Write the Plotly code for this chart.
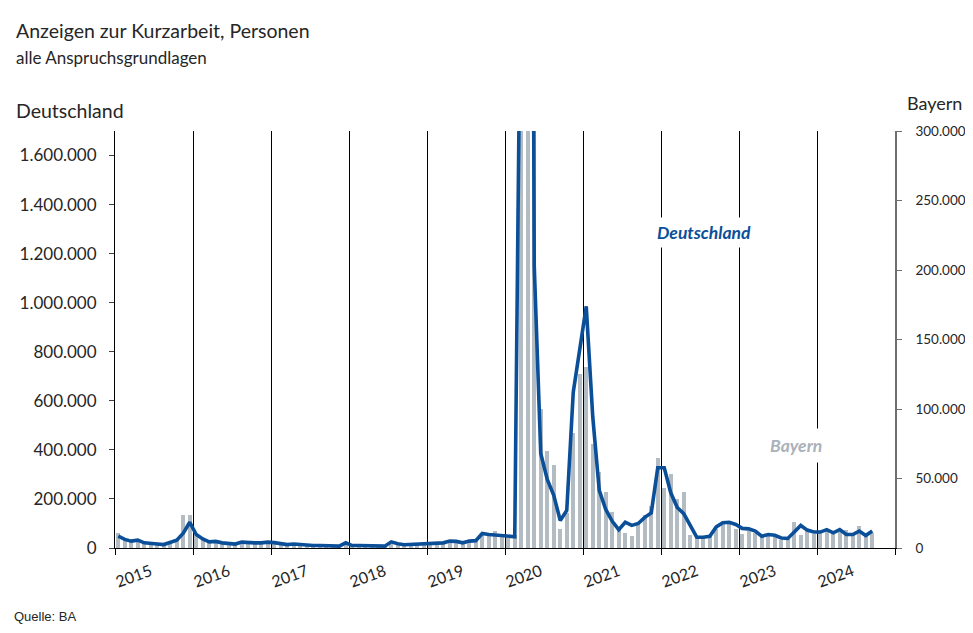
import plotly.graph_objects as go

# ---------------- data (values in thousands of persons) ----------------
years = [2015, 2016, 2017, 2018, 2019, 2020, 2021, 2022, 2023, 2024]

# Deutschland (left axis), monthly Jan 2015 .. Sep 2024
de_2015 = [48, 35, 28, 32, 21, 17, 16, 14, 24, 32, 60, 105]
de_2016 = [55, 37, 25, 27, 21, 17, 16, 24, 21, 21, 21, 24]
de_2017 = [22, 17, 14, 16, 13, 10, 10, 10, 9, 7.5, 7.5, 21]
de_2018 = [10, 10, 10, 9, 7.5, 7.5, 25, 17, 13, 14, 14, 16]
de_2019 = [17, 17, 21, 28, 27, 21, 28, 30, 59, 55, 52, 50]
de_2020 = [47, 46, 2650, 8000, 1150, 385, 280, 215, 112, 153, 635, 800]
de_2021 = [985, 535, 235, 157, 109, 75, 105, 92, 100, 125, 143, 327]
de_2022 = [327, 225, 165, 140, 92, 44, 44, 48, 86, 103, 105, 96]
de_2023 = [80, 78, 69, 48, 55, 52, 41, 39, 65, 92, 73, 65]
de_2024 = [65, 75, 62, 75, 55, 55, 69, 51, 69]

# Bayern (right axis), monthly Jan 2015 .. Sep 2024
by_2015 = [11, 6, 5, 6, 4, 3, 3, 3, 4, 6, 24, 24]
by_2016 = [9, 6, 4, 4, 3, 3, 3, 3, 3, 3, 3, 4]
by_2017 = [3, 3, 2, 2, 2, 2, 2, 2, 2, 2, 2, 3]
by_2018 = [2, 2, 2, 2, 2, 2, 3, 3, 2, 2, 2, 3]
by_2019 = [3, 3, 3, 4, 4, 4, 4, 5, 10, 10, 12, 10]
by_2020 = [8, 9, 450, 1500, 330, 100, 70, 60, 14, 25, 83, 125]
by_2021 = [130, 75, 55, 40, 26, 15, 11, 8.5, 17, 24, 30, 65]
by_2022 = [43, 53, 35, 40, 9.7, 8.5, 8.5, 9, 14, 18, 17, 14]
by_2023 = [10, 12, 11, 8.5, 9.7, 8, 6, 7.5, 18.5, 9.7, 14, 10]
by_2024 = [11, 12, 12.5, 11.5, 13, 10.5, 15.5, 9, 11]

left_ticks = [0, 200000, 400000, 600000, 800000, 1000000, 1200000, 1400000, 1600000]
right_ticks = [0, 50000, 100000, 150000, 200000, 250000, 300000]

deutschland = de_2015 + de_2016 + de_2017 + de_2018 + de_2019 + de_2020 + de_2021 + de_2022 + de_2023 + de_2024
bayern = by_2015 + by_2016 + by_2017 + by_2018 + by_2019 + by_2020 + by_2021 + by_2022 + by_2023 + by_2024
months = [i + 0.5 for i in range(len(deutschland))]

FONT = "Lato"
TXT = "#262626"
BLUE = "#0B4F99"
GREY = "#B3BBC3"

fig = go.Figure()
fig.add_trace(go.Bar(x=months, y=[v * 1000 for v in bayern], yaxis="y",
                     marker=dict(color=GREY, line=dict(width=0)), width=0.6,
                     name="Bayern"))
fig.add_trace(go.Scatter(x=months, y=[v * 1000 for v in deutschland], yaxis="y2",
                         mode="lines", line=dict(color=BLUE, width=3.6),
                         name="Deutschland"))

annotations = []
for k, yr in enumerate(years):
    annotations.append(dict(x=k * 12 + 2.8, y=-0.066, xref="x", yref="paper",
                            text=str(yr), showarrow=False, textangle=-20,
                            xanchor="center", yanchor="middle",
                            font=dict(family=FONT, size=16, color=TXT)))

annotations += [
    dict(x=-0.13, y=1.242, xref="paper", yref="paper", xanchor="left", yanchor="middle",
         text="Anzeigen zur Kurzarbeit, Personen", showarrow=False,
         font=dict(family=FONT, size=19.5, color=TXT)),
    dict(x=-0.13, y=1.177, xref="paper", yref="paper", xanchor="left", yanchor="middle",
         text="alle Anspruchsgrundlagen", showarrow=False,
         font=dict(family=FONT, size=17, color=TXT)),
    dict(x=-0.13, y=1.048, xref="paper", yref="paper", xanchor="left", yanchor="middle",
         text="Deutschland", showarrow=False,
         font=dict(family=FONT, size=19.5, color=TXT)),
    dict(x=1.05, y=1.066, xref="paper", yref="paper", xanchor="center", yanchor="middle",
         text="Bayern", showarrow=False,
         font=dict(family=FONT, size=18, color=TXT)),
    dict(x=-0.132, y=-0.165, xref="paper", yref="paper", xanchor="left", yanchor="middle",
         text="Quelle: BA", showarrow=False,
         font=dict(family="Liberation Sans", size=13, color=TXT)),
    dict(x=90.6, y=1285000, xref="x", yref="y2", text="<b><i>Deutschland</i></b>",
         showarrow=False, bgcolor="white", borderpad=4,
         font=dict(family=FONT, size=17.5, color=BLUE)),
    dict(x=104.8, y=74000, xref="x", yref="y", text="<b><i>Bayern</i></b>",
         showarrow=False, bgcolor="white", borderpad=6,
         font=dict(family=FONT, size=17.5, color="#A9B1B9")),
]

fig.update_layout(
    width=973, height=633,
    margin=dict(l=104, r=86, t=123, b=93),
    paper_bgcolor="white", plot_bgcolor="white",
    showlegend=False, separators=",.",
    font=dict(family=FONT, size=16, color=TXT),
    bargap=0,
    xaxis=dict(range=[0, 120], tickvals=list(range(0, 121, 12)), showticklabels=False,
               ticks="outside", ticklen=6, tickcolor="#000000",
               showgrid=True, gridcolor="#000000", gridwidth=1,
               showline=True, linecolor="#000000", linewidth=1, zeroline=False),
    yaxis=dict(side="right", range=[0, 300000], tickvals=right_ticks, tickformat=",.0f",
               ticks="outside", ticklen=5, tickcolor="#6F6F6F",
               showline=True, linecolor="#6F6F6F", linewidth=1.5,
               showgrid=False, zeroline=False, ticklabelstandoff=11,
               tickfont=dict(family=FONT, size=13.5, color=TXT)),
    yaxis2=dict(side="left", overlaying="y", range=[0, 1700000], tickvals=left_ticks,
                tickformat=",.0f", ticks="outside", ticklen=5, tickcolor="#404040",
                showline=True, linecolor="#000000", linewidth=1,
                showgrid=False, zeroline=False, ticklabelstandoff=9,
                tickfont=dict(family=FONT, size=17, color=TXT)),
    annotations=annotations,
)

fig.write_html("out.html")
